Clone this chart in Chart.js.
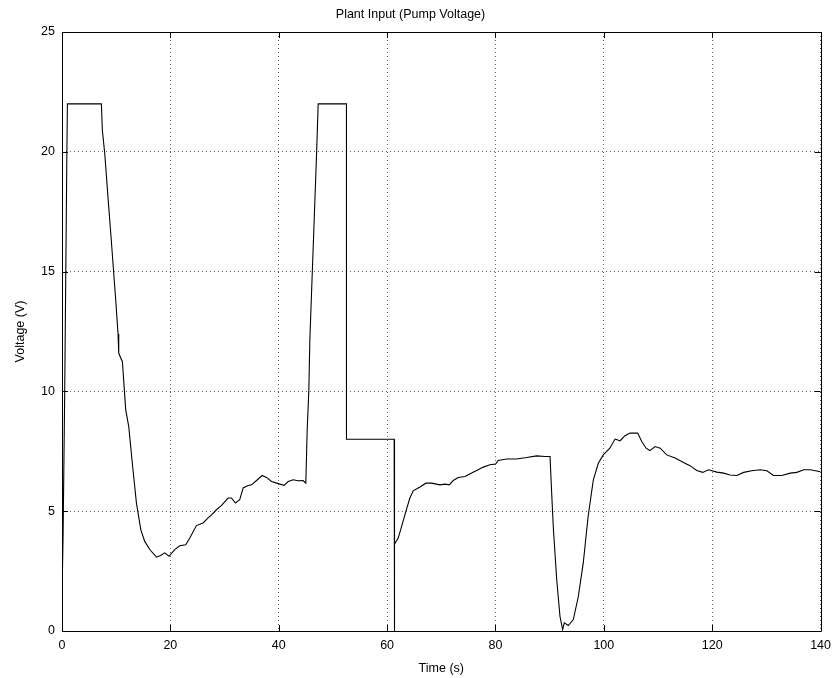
<!DOCTYPE html>
<html>
<head>
<meta charset="utf-8">
<script src="https://cdn.jsdelivr.net/npm/chart.js@4/dist/chart.umd.min.js"></script>
<style>
  html, body { margin: 0; padding: 0; background: #fff; }
  #wrap { width: 838px; height: 678px; }
</style>
</head>
<body>
<div id="wrap"><canvas id="pump-chart" width="838" height="678"></canvas></div>
<script>
// plant input
const timeSec = [0, 0.2, 0.5, 0.9, 1.0, 7.27, 7.45, 7.9, 8.62, 9.0, 9.87, 10.34, 10.47, 11.15, 11.76, 12.32, 13.1, 13.74, 14.54, 15.27,
  16.2, 17.43, 18.2, 18.96, 19.75, 20.8, 21.74, 22.84, 23.58, 24.81, 26.04, 26.96, 27.6, 28.5, 29.4, 30.66, 31.27, 32.0, 32.8, 33.43,
  34.24, 34.97, 35.9, 36.94, 37.74, 38.67, 39.9, 41.0, 41.74, 42.66, 43.58, 44.5, 45.0, 45.25, 45.56, 45.74, 46.98, 47.28, 52.5, 52.5,
  61.3, 61.3, 61.4, 61.4, 62.05, 62.68, 63.47, 64.2, 64.82, 66.06, 67.16, 68.2, 69.75, 70.67, 71.47, 72.2, 73.13, 74.37, 75.6, 76.8,
  77.75, 78.98, 80.03, 80.5, 82.06, 83.9, 85.76, 87.6, 89.15, 90.07, 90.4, 90.7, 91.3, 91.9, 92.4, 92.7, 93.44, 94.37, 95.3, 96.2,
  97.1, 98.06, 99.0, 99.9, 101.1, 102.07, 103.0, 103.9, 104.84, 106.25, 107.0, 107.8, 108.5, 109.45, 110.4, 111.6, 113.15, 114.7, 115.9, 117.15,
  118.26, 119.3, 120.85, 122.1, 123.3, 124.55, 125.8, 127.3, 128.85, 130.1, 131.3, 132.85, 134.4, 135.6, 136.9, 138.1, 140];

const voltage = [1.4, 4, 10, 20, 22, 22, 20.9, 19.9, 17.7, 16.6, 13.95, 12.4, 11.59, 11.24, 9.23, 8.53, 6.73, 5.34, 4.23, 3.74,
  3.40, 3.08, 3.15, 3.26, 3.12, 3.40, 3.56, 3.60, 3.88, 4.40, 4.51, 4.72, 4.85, 5.06, 5.23, 5.55, 5.55, 5.34, 5.48, 5.97,
  6.06, 6.10, 6.28, 6.49, 6.41, 6.24, 6.15, 6.08, 6.24, 6.31, 6.27, 6.28, 6.17, 8.4, 10.06, 12.15, 19.9, 22, 22, 8,
  8, 0, 0, 3.63, 3.88, 4.37, 4.99, 5.55, 5.85, 6.01, 6.17, 6.17, 6.1, 6.13, 6.1, 6.28, 6.41, 6.45, 6.59, 6.73,
  6.84, 6.94, 6.97, 7.12, 7.18, 7.18, 7.24, 7.31, 7.28, 7.28, 5.62, 4.23, 2.15, 0.62, 0.06, 0.34, 0.23, 0.48, 1.45, 2.84,
  4.78, 6.31, 7.01, 7.35, 7.63, 8.01, 7.94, 8.15, 8.26, 8.26, 7.91, 7.63, 7.53, 7.70, 7.63, 7.35, 7.22, 7.03, 6.9, 6.7,
  6.62, 6.73, 6.63, 6.59, 6.51, 6.49, 6.62, 6.69, 6.73, 6.69, 6.49, 6.49, 6.59, 6.62, 6.73, 6.73, 6.65];

const xTicks = [0, 20, 40, 60, 80, 100, 120, 140];
const yTicks = [0, 5, 10, 15, 20, 25];

const FONT = "'Liberation Sans', Arial, sans-serif";

// matlab style box with inward ticks
const boxPlugin = {
  id: "box",
  afterDatasetsDraw(chart) {
    const { ctx, chartArea: a, scales } = chart;
    const len = 6;
    ctx.save();
    ctx.strokeStyle = "#000";
    ctx.lineWidth = 1;
    ctx.beginPath();
    ctx.rect(Math.round(a.left) + 0.5, Math.round(a.top) + 0.5,
      Math.round(a.right - a.left), Math.round(a.bottom - a.top));
    for (const v of xTicks) {
      const x = Math.round(scales.x.getPixelForValue(v)) + 0.5;
      ctx.moveTo(x, a.bottom); ctx.lineTo(x, a.bottom - len);
      ctx.moveTo(x, a.top); ctx.lineTo(x, a.top + len);
    }
    for (const v of yTicks) {
      const y = Math.round(scales.y.getPixelForValue(v)) + 0.5;
      ctx.moveTo(a.left, y); ctx.lineTo(a.left + len, y);
      ctx.moveTo(a.right, y); ctx.lineTo(a.right - len, y);
    }
    ctx.stroke();
    ctx.restore();
  }
};

new Chart(document.getElementById("pump-chart"), {
  type: "line",
  data: {
    datasets: [{
      data: timeSec.map((t, i) => ({ x: t, y: voltage[i] })),
      borderColor: "#000",
      borderWidth: 1.1,
      pointRadius: 0,
      tension: 0,
      fill: false
    }]
  },
  options: {
    responsive: false,
    animation: false,
    layout: { padding: { top: 0, right: 17, bottom: 0, left: 0 } },
    plugins: {
      legend: { display: false },
      tooltip: { enabled: false },
      title: {
        display: true,
        text: "Plant Input (Pump Voltage)",
        color: "#000",
        font: { family: FONT, size: 12.5, weight: "normal" },
        padding: { top: 7, bottom: 10 }
      }
    },
    scales: {
      x: {
        type: "linear",
        min: 0, max: 140,
        afterFit: s => { s.height = 47; },
        afterBuildTicks: s => { s.ticks = xTicks.map(v => ({ value: v })); },
        ticks: { color: "#000", font: { family: FONT, size: 12.5 }, padding: 7, maxRotation: 0 },
        grid: { color: "#666", lineWidth: 1, drawTicks: false },
        border: { display: false, dash: [1, 3] },
        title: {
          display: true, text: "Time (s)", color: "#000",
          font: { family: FONT, size: 12.5 }, padding: 2
        }
      },
      y: {
        min: 0, max: 25,
        afterFit: s => { s.width = 62; },
        afterBuildTicks: s => { s.ticks = yTicks.map(v => ({ value: v })); },
        ticks: { color: "#000", font: { family: FONT, size: 12.5 }, padding: 7 },
        grid: { color: "#666", lineWidth: 1, drawTicks: false },
        border: { display: false, dash: [1, 3] },
        title: {
          display: true, text: "Voltage (V)", color: "#000",
          font: { family: FONT, size: 12.5 }, padding: 13
        }
      }
    }
  },
  plugins: [boxPlugin]
});
</script>
</body>
</html>
